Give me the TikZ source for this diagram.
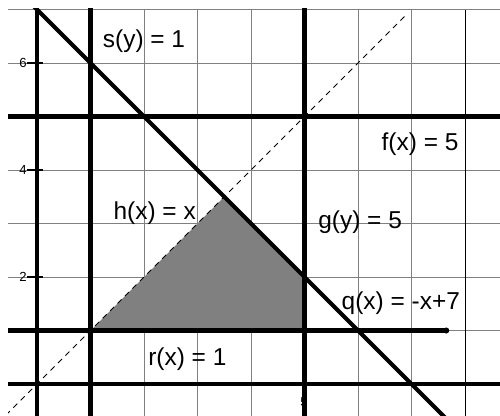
\documentclass[tikz,border=0pt]{standalone}
\usepackage{fontspec}
\setmainfont{Liberation Sans}
\begin{document}
\begin{tikzpicture}[x=1cm,y=1cm,
	thickline/.style={line width=2.2pt},
	lbl/.style={font=\fontsize{13}{15}\selectfont, inner sep=0pt},
	ticklbl/.style={font=\fontsize{7}{8}\selectfont, inner sep=0pt}]
	\useasboundingbox (-0.692,-0.598) rectangle (8.654,7.178);
	\begin{scope}
		\clip (-0.54,-0.7) rectangle (8.7,7.02);
		\draw[gray, line width=0.5pt] (-0.54,-1) grid (8.7,7);
		\draw[black, line width=0.5pt] (8,-1) -- (8,7);
		% shaded region
		\fill[gray] (1,1) -- (3.5,3.5) -- (5,2) -- (5,1) -- cycle;
		% h(x) = x
		\draw[line width=0.5pt, dash pattern=on 3pt off 2.6pt] (-1,-1) -- (6.92,6.92);
		% axes and lines
		\draw[thickline] (0,-1) -- (0,7.5);
		\draw[thickline] (-1,0) -- (9,0);
		\draw[thickline] (1,-1) -- (1,7.5);
		\draw[thickline] (5,-1) -- (5,7.5);
		\draw[thickline] (-1,5) -- (9,5);
		\draw[thickline] (-1,1) -- (7.65,1);
		\fill (7.65,1) circle (1.6pt);
		\draw[thickline] (-0.2,7.2) -- (8.3,-1.3);
		\foreach \t in {2,4,6}
			\draw[line width=0.6pt] (-0.19,\t) -- (0.11,\t);
	\end{scope}
	\foreach \t in {2,4,6}
		\node[ticklbl] (ty\t) at (-0.26,\t) {\t};
	\node[ticklbl] (tx5) at (4.99,-0.34) {5};
	\node[lbl] (sLbl) at (2.0,6.41) {s(y) = 1};
	\node[lbl] (fLbl) at (7.16,4.49) {f(x) = 5};
	\node[lbl] (hLbl) at (2.2,3.2) {h(x) = x};
	\node[lbl] (gLbl) at (6.04,3.03) {g(y) = 5};
	\node[lbl] (qLbl) at (6.8,1.51) {q(x) = -x+7};
	\node[lbl] (rLbl) at (2.81,0.47) {r(x) = 1};
\end{tikzpicture}
\end{document}
